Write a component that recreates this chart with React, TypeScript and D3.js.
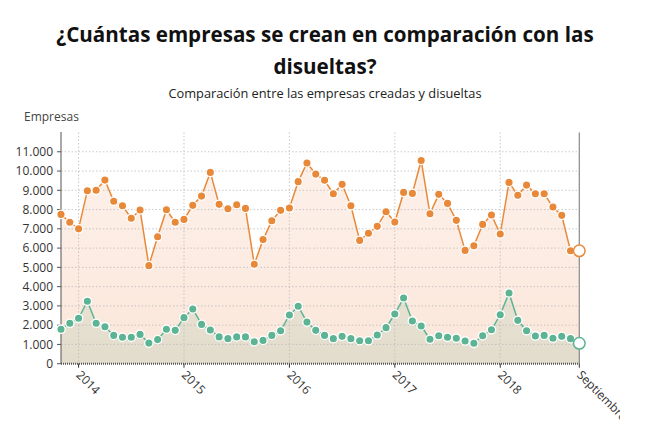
import React from "react";
import * as d3 from "d3";

const creadas = [7750, 7340, 7000, 8980, 9000, 9530, 8430, 8200, 7550, 7980, 5090, 6590, 7990, 7340, 7490, 8220, 8700, 9930, 8270, 8040, 8250, 8060, 5160, 6440, 7420, 7960, 8080, 9450, 10420, 9840, 9520, 8820, 9310, 8200, 6400, 6770, 7130, 7890, 7350, 8890, 8840, 10550, 7780, 8790, 8320, 7440, 5880, 6120, 7230, 7720, 6730, 9410, 8740, 9270, 8820, 8820, 8130, 7700, 5860, 5860];
const disueltas = [1790, 2100, 2360, 3240, 2100, 1920, 1470, 1370, 1370, 1520, 1070, 1250, 1790, 1730, 2390, 2840, 2040, 1750, 1390, 1300, 1390, 1390, 1140, 1210, 1470, 1710, 2530, 2980, 2160, 1730, 1470, 1300, 1420, 1300, 1190, 1190, 1490, 1870, 2580, 3410, 2220, 1960, 1270, 1450, 1370, 1320, 1180, 1060, 1450, 1760, 2540, 3670, 2250, 1710, 1440, 1470, 1320, 1420, 1300, 1060];
const xTickIdx = [2, 14, 26, 38, 50, 59];
const xTickLabels = ["2014", "2015", "2016", "2017", "2018", "Septiembre"];
const yTicks = [0, 1000, 2000, 3000, 4000, 5000, 6000, 7000, 8000, 9000, 10000, 11000];

const W = 650, H = 438;
const L = 61, R = 579.3, T = 132.5, B = 363.7;
const FONT = "'Open Sans', 'Noto Sans', sans-serif";

export default function App() {
  const x = d3.scaleLinear().domain([0, creadas.length - 1]).range([L, R]);
  const y = d3.scaleLinear().domain([0, 12000]).range([B, T]);
  const fmt = (v: number) => v === 0 ? "0" : d3.format(",")(v).replace(/,/g, ".");
  const line = d3.line<number>().x((_, i) => x(i)).y((d) => y(d));
  const area = d3.area<number>().x((_, i) => x(i)).y0(B).y1((d) => y(d));
  const n = creadas.length;
  const series = [
    { data: creadas, color: "#e8893a", fill: "url(#gO)" },
    { data: disueltas, color: "#5db495", fill: "url(#gG)" },
  ];
  return (
    <svg width={W} height={H} style={{ display: "block", position: "absolute", left: 0, top: 0 }} fontFamily={FONT}>
      <defs>
        <linearGradient id="gO" x1="0" y1="0" x2="0" y2="1">
          <stop offset="0" stopColor="#fdf1ea" />
          <stop offset="1" stopColor="#fbe6da" />
        </linearGradient>
        <linearGradient id="gG" x1="0" y1="0" x2="0" y2="1">
          <stop offset="0" stopColor="#e9e2d3" />
          <stop offset="1" stopColor="#e2dccd" />
        </linearGradient>
        <clipPath id="clipX">
          <rect x={0} y={0} width={620} height={H} />
        </clipPath>
      </defs>
      <rect width={W} height={H} fill="#fff" />
      <text x={325} y={42} textAnchor="middle" fontSize={20.6} fontWeight="bold" fill="#111">¿Cuántas empresas se crean en comparación con las</text>
      <text x={325} y={74} textAnchor="middle" fontSize={20.6} fontWeight="bold" fill="#111">disueltas?</text>
      <text x={325} y={98} textAnchor="middle" fontSize={12.8} fill="#222">Comparación entre las empresas creadas y disueltas</text>
      <text x={24} y={121} fontSize={12} fill="#444">Empresas</text>

      {series.map((s, k) => (
        <path key={"a" + k} d={area(s.data) || ""} fill={s.fill} />
      ))}

      {yTicks.slice(1).map((t) => (
        <line key={"g" + t} x1={L} x2={R} y1={y(t)} y2={y(t)} stroke="#bbb" strokeOpacity={0.8} strokeDasharray="1.5,2" />
      ))}
      {xTickIdx.slice(0, 5).map((i) => (
        <line key={"v" + i} x1={x(i)} x2={x(i)} y1={T} y2={B} stroke="#bbb" strokeOpacity={0.8} strokeDasharray="1.5,2" />
      ))}

      <line x1={R} x2={R} y1={T} y2={B} stroke="#888" strokeWidth={1.2} />
      <line x1={L} x2={L} y1={T} y2={B} stroke="#555" strokeWidth={2} strokeDasharray="1,1" />
      <line x1={L} x2={R} y1={B} y2={B} stroke="#555" strokeWidth={2} strokeDasharray="1,1" />

      {yTicks.map((t) => (
        <g key={"y" + t}>
          <line x1={L - 4} x2={L} y1={y(t)} y2={y(t)} stroke="#555" />
          <text x={53} y={y(t)} dy="0.35em" textAnchor="end" fontSize={12} fill="#333">{fmt(t)}</text>
        </g>
      ))}
      <g clipPath="url(#clipX)">
        {xTickIdx.map((i, k) => (
          <g key={"x" + i}>
            <line x1={x(i)} x2={x(i)} y1={B} y2={B + 4} stroke="#333" />
            <text transform={`translate(${x(i) - 3},${B + 12}) rotate(45)`} fontSize={12} fill="#333">{xTickLabels[k]}</text>
          </g>
        ))}
      </g>

      {series.map((s, k) => (
        <g key={"s" + k}>
          <path d={line(s.data) || ""} fill="none" stroke={s.color} strokeWidth={1.5} />
          {s.data.slice(0, n - 1).map((v, i) => (
            <circle key={i} cx={x(i)} cy={y(v)} r={4.2} fill={s.color} stroke="#fff" strokeWidth={1.3} />
          ))}
          <circle cx={x(n - 1)} cy={y(s.data[n - 1])} r={5.8} fill="#fff" stroke={s.color} strokeWidth={1.5} />
        </g>
      ))}
    </svg>
  );
}
